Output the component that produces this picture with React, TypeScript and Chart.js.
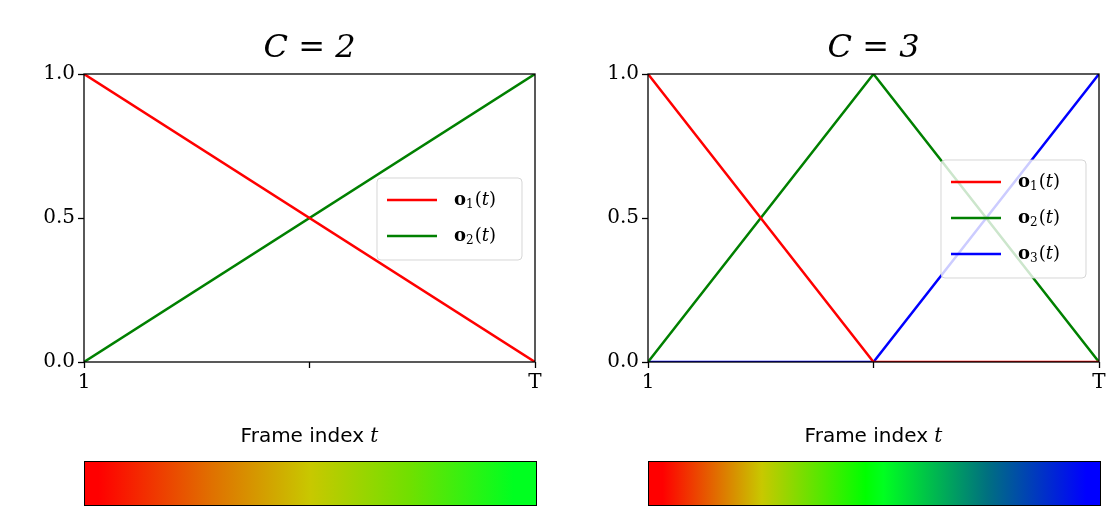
import React, { useEffect, useRef } from "react";
import { Chart, registerables } from "chart.js";

Chart.register(...registerables);

// frame positions (0 = first frame "1", 1 = last frame "T")
const framesC2 = [0, 1];
const o1C2 = [1, 0];
const o2C2 = [0, 1];

const framesC3 = [0, 0.5, 1];
const o1C3 = [1, 0, 0];
const o2C3 = [0, 1, 0];
const o3C3 = [0, 0, 1];

const yTicks = [0, 0.5, 1];
const xTickLabels: Record<string, string> = { "0": "1", "0.5": "", "1": "T" };

const seriesColors = ["#ff0000", "#008000", "#0000ff"];
const seriesNames = ["1", "2", "3"];

interface PanelProps {
  left: number;
  title: string;
  frames: number[];
  series: number[][];
  legendTop: number;
  gradient: string;
}

const frameBoxPlugin = (title: string, legendTop: number, count: number) => ({
  id: "frameBox",
  afterDraw(chart: Chart) {
    const { ctx, chartArea: a } = chart;
    ctx.save();
    ctx.strokeStyle = "#000";
    ctx.lineWidth = 1.3;
    ctx.strokeRect(a.left, a.top, a.right - a.left, a.bottom - a.top);

    // title
    ctx.fillStyle = "#000";
    ctx.textAlign = "center";
    ctx.textBaseline = "alphabetic";
    ctx.font = "italic 32px 'DejaVu Serif'";
    const cx = (a.left + a.right) / 2;
    ctx.fillText(title, cx, 57);

    // x axis title
    ctx.font = "20px 'DejaVu Sans'";
    const lab = "Frame index ";
    const w1 = ctx.measureText(lab).width;
    ctx.font = "italic 20px 'DejaVu Serif'";
    const w2 = ctx.measureText("t").width;
    const sx = cx - (w1 + w2) / 2;
    ctx.textAlign = "left";
    ctx.font = "20px 'DejaVu Sans'";
    ctx.fillText(lab, sx, 442);
    ctx.font = "italic 20px 'DejaVu Serif'";
    ctx.fillText("t", sx + w1, 442);

    // legend
    const lw = 145;
    const rowH = 36;
    const lh = count * rowH + 10;
    const lx = a.right - lw - 13;
    ctx.globalAlpha = 0.8;
    ctx.fillStyle = "#fff";
    ctx.strokeStyle = "#ccc";
    ctx.lineWidth = 1;
    ctx.beginPath();
    ctx.roundRect(lx, legendTop, lw, lh, 4);
    ctx.fill();
    ctx.stroke();
    ctx.globalAlpha = 1;
    for (let i = 0; i < count; i++) {
      const y = legendTop + 22 + i * rowH;
      ctx.strokeStyle = seriesColors[i];
      ctx.lineWidth = 2.5;
      ctx.beginPath();
      ctx.moveTo(lx + 10, y);
      ctx.lineTo(lx + 60, y);
      ctx.stroke();
      ctx.fillStyle = "#000";
      ctx.textBaseline = "middle";
      ctx.font = "bold 18px 'DejaVu Serif'";
      ctx.fillText("o", lx + 77, y);
      const ow = ctx.measureText("o").width;
      ctx.font = "12px 'DejaVu Serif'";
      ctx.fillText(seriesNames[i], lx + 77 + ow, y + 5);
      const sw = ctx.measureText(seriesNames[i]).width;
      ctx.font = "18px 'DejaVu Serif'";
      ctx.fillText("(", lx + 78 + ow + sw, y);
      const pw = ctx.measureText("(").width;
      ctx.font = "italic 18px 'DejaVu Serif'";
      ctx.fillText("t", lx + 78 + ow + sw + pw, y);
      const tw = ctx.measureText("t").width;
      ctx.font = "18px 'DejaVu Serif'";
      ctx.fillText(")", lx + 78 + ow + sw + pw + tw, y);
    }
    ctx.restore();
  },
});

const Panel = ({ left, title, frames, series, legendTop, gradient }: PanelProps) => {
  const canvasRef = useRef<HTMLCanvasElement | null>(null);

  useEffect(() => {
    if (!canvasRef.current) return;
    const chart = new Chart(canvasRef.current, {
      type: "line",
      data: {
        datasets: series.map((vals, i) => ({
          data: frames.map((f, j) => ({ x: f, y: vals[j] })),
          borderColor: seriesColors[i],
          borderWidth: 2.5,
          pointRadius: 0,
          tension: 0,
        })),
      },
      options: {
        animation: false,
        responsive: false,
        layout: { padding: { left: 14, right: 15, top: 74, bottom: 0 } },
        plugins: { legend: { display: false }, tooltip: { enabled: false } },
        scales: {
          x: {
            type: "linear",
            min: 0,
            max: 1,
            afterFit: (s: any) => { s.height = 88; },
            afterBuildTicks: (s: any) => { s.ticks = [0, 0.5, 1].map((v) => ({ value: v })); },
            grid: { drawOnChartArea: false, color: "#000", tickLength: 6, tickWidth: 1.3 },
            border: { display: false },
            ticks: {
              color: "#000",
              font: { family: "'DejaVu Serif'", size: 20 },
              maxRotation: 0,
              callback: (v: any) => xTickLabels[String(v)] ?? "",
            },
          },
          y: {
            min: 0,
            max: 1,
            afterFit: (s: any) => { s.width = 50; },
            afterBuildTicks: (s: any) => { s.ticks = yTicks.map((v) => ({ value: v })); },
            grid: { drawOnChartArea: false, color: "#000", tickLength: 6, tickWidth: 1.3 },
            border: { display: false },
            ticks: {
              color: "#000",
              font: { family: "'DejaVu Serif'", size: 20 },
              callback: (v: any) => Number(v).toFixed(1),
            },
          },
        },
      },
      plugins: [frameBoxPlugin(title, legendTop, series.length)],
    });
    return () => chart.destroy();
  }, []);

  return (
    <>
      <div style={{ position: "absolute", left, top: 0, width: 530, height: 450 }}>
        <canvas ref={canvasRef} width={530} height={450} />
      </div>
      <div
        style={{
          position: "absolute",
          left: left + 64,
          top: 461,
          width: 451,
          height: 43,
          border: "1px solid #000",
          background: gradient,
        }}
      />
    </>
  );
};

export default function App() {
  return (
    <div style={{ position: "absolute", left: 0, top: 0, width: 1120, height: 527, background: "#fff" }}>
      <Panel
        left={20}
        title="C = 2"
        frames={framesC2}
        series={[o1C2, o2C2]}
        legendTop={178}
        gradient="linear-gradient(to right, #ff0000 0%, #ff0000 3%, #e07000 28%, #c8c800 50%, #70e000 72%, #00ff20 95%, #00ff20 100%)"
      />
      <Panel
        left={584}
        title="C = 3"
        frames={framesC3}
        series={[o1C3, o2C3, o3C3]}
        legendTop={160}
        gradient="linear-gradient(to right, #ff0000 0%, #ff0000 3%, #c8c800 25%, #00ff00 48%, #00ff20 52%, #007080 75%, #0000ff 97%, #0000ff 100%)"
      />
    </div>
  );
}
